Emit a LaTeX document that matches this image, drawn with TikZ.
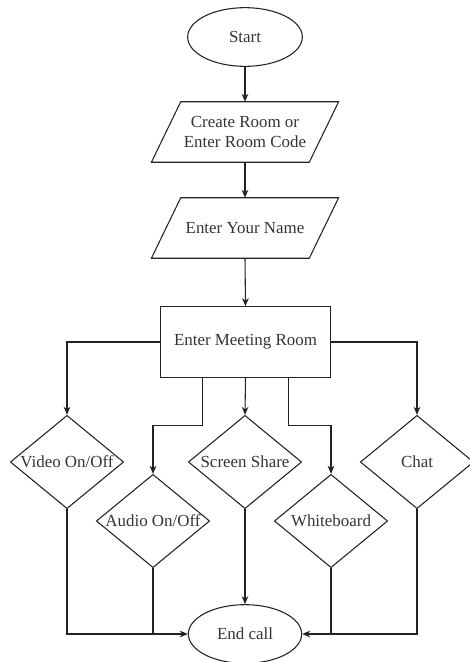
\documentclass[tikz,border=0pt]{standalone}
\usepackage{fontspec}
\setmainfont{Liberation Serif}
\usetikzlibrary{arrows.meta,shapes.geometric}
\definecolor{linecol}{HTML}{222222}
\definecolor{textcol}{HTML}{333333}

\begin{document}
\begin{tikzpicture}[x=0.75pt,y=-0.75pt,
  every node/.style={font=\fontsize{12.7}{14.5}\selectfont, text=textcol},
  terminal/.style={draw=linecol, line width=0.8pt, ellipse, minimum width=86pt, minimum height=44pt, inner sep=0pt},
  iobox/.style={rectangle, minimum width=118pt, minimum height=45pt, align=center, inner sep=1pt},
  slanted/.style={draw=linecol, line width=0.8pt},
  procbox/.style={draw=linecol, line width=0.8pt, rectangle, minimum width=128pt, minimum height=53pt},
  choice/.style={draw=linecol, line width=0.8pt, diamond, minimum width=85pt, minimum height=70pt, inner sep=0pt},
  flow/.style={draw=linecol, line width=0.8pt, -{Stealth[length=6pt,width=5pt]}},
  plain/.style={draw=linecol, line width=0.8pt}]

\useasboundingbox (0,0) rectangle (469,662);

% === TOP: start and inputs ===
\node[terminal] (start) at (245,37) {Start};
\node[iobox] (create) at (245,132) {Create Room or\\Enter Room Code};
\node[iobox] (yourname) at (245,228) {Enter Your Name};
\node[procbox] (meet) at (245.5,342) {Enter Meeting Room};

% parallelogram outlines
\foreach \io in {create,yourname}
  \draw[slanted] ([xshift=11pt]\io.north west) -- ([xshift=11pt]\io.north east)
    -- ([xshift=-11pt]\io.south east) -- ([xshift=-11pt]\io.south west) -- cycle;

\draw[flow] (start.south) -- (create.north);
\draw[flow] (create.south) -- (yourname.north);
\draw[flow] (yourname.south) -- (meet.north);

% === MIDDLE: meeting options ===
\node[choice] (video) at (67,462) {\makebox[0pt]{Video On/Off}};
\node[choice] (audio) at (153,521) {\makebox[0pt]{Audio On/Off}};
\node[choice] (screen) at (245,462) {\makebox[0pt]{Screen Share}};
\node[choice] (whiteb) at (331,521) {\makebox[0pt]{Whiteboard}};
\node[choice] (chat) at (417,462) {\makebox[0pt]{Chat}};

\draw[flow] (meet.west) -| (video.north);
\draw[flow] (meet.east) -| (chat.north);
\draw[flow] (meet.south) -- (screen.north);
\draw[flow] ([xshift=-32pt]meet.south) -- ++(0,48) -| (audio.north);
\draw[flow] ([xshift=32pt]meet.south) -- ++(0,48) -| (whiteb.north);

% === BOTTOM: end call ===
\node[terminal, minimum width=85pt] (endcall) at (245,634) {End call};

\draw[flow] (screen.south) -- (endcall.north);
\draw[flow] (video.south) |- (endcall.west);
\draw[plain] (audio.south) -- (audio.south |- endcall.west);
\draw[flow] (chat.south) |- (endcall.east);
\draw[plain] (whiteb.south) -- (whiteb.south |- endcall.east);

\end{tikzpicture}
\end{document}
